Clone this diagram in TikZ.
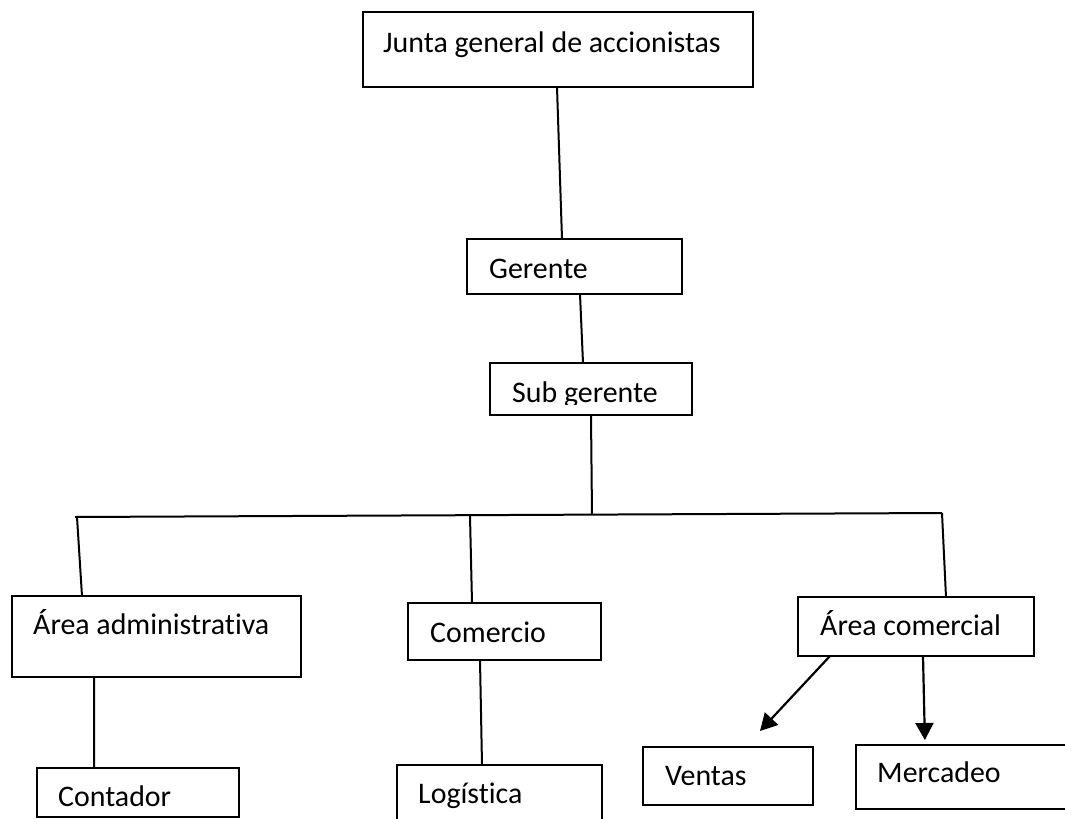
\documentclass[tikz,border=0pt]{standalone}
\usepackage{fontspec}
\setmainfont{Carlito}[Ligatures=NoCommon]
\usetikzlibrary{arrows.meta}
\begin{document}
\begin{tikzpicture}[x=1bp,y=-1bp,
  box/.style={draw, line width=2bp, rectangle, inner sep=0pt, outer sep=0pt},
  lbl/.style={anchor=base west, inner sep=0pt, font=\fontsize{30}{35}\selectfont},
  conn/.style={line width=2bp},
  arr/.style={line width=2.2bp, -{Triangle[length=17bp,width=18bp]}}]
\useasboundingbox (0,0) rectangle (1065,819);
\clip (0,0) rectangle (1065,819);
% boxes
\node[box, minimum width=390bp, minimum height=75bp] (junta) at (558,49.5) {};
\node[box, minimum width=215bp, minimum height=55bp] (gerente) at (574.5,266.5) {};
\node[box, minimum width=202bp, minimum height=52bp] (sub) at (591,389) {};
\node[box, minimum width=289bp, minimum height=81bp] (adm) at (156.5,636.5) {};
\node[box, minimum width=193bp, minimum height=57bp] (comercio) at (504.5,631.5) {};
\node[box, minimum width=236bp, minimum height=59bp] (comercial) at (916,626.5) {};
\node[box, minimum width=202bp, minimum height=49bp] (contador) at (138,792.5) {};
\node[box, minimum width=205bp, minimum height=75bp] (logistica) at (499.5,802.5) {};
\node[box, minimum width=170bp, minimum height=58bp] (ventas) at (728,776) {};
\node[box, minimum width=244bp, minimum height=64bp] (mercadeo) at (978,777) {};
% texts
\node[lbl] (tjunta) at (383,53) {Junta general de accionistas};
\node[lbl] (tgerente) at (489,278) {Gerente};
\begin{scope}
  \clip (490,363) rectangle (692,404);
  \node[lbl] (tsub) at (512,402) {Sub gerente};
\end{scope}
\node[lbl] (tadm) at (33,634) {Área administrativa};
\node[lbl] (tcomercio) at (430,642) {Comercio};
\node[lbl] (tcomercial) at (820,635) {Área comercial};
\node[lbl] (tcontador) at (58,806) {Contador};
\node[lbl] (tlogistica) at (418,803) {Logística};
\node[lbl] (tventas) at (665,785) {Ventas};
\node[lbl] (tmercadeo) at (877,782) {Mercadeo};
% bus coordinates
\coordinate (bL) at (75,517);
\coordinate (bA) at (77,517);
\coordinate (bC) at (470,516);
\coordinate (bM) at (592,515);
\coordinate (bR) at (942,513);
\coordinate (vtip) at (760,731);
% connectors
\draw[conn] ([xshift=194bp]junta.south west) -- ([xshift=95bp]gerente.north west);
\draw[conn] ([xshift=113bp]gerente.south west) -- ([xshift=93bp]sub.north west);
\draw[conn] ([xshift=101bp]sub.south west) -- (bM);
\draw[conn] (bL) -- (bR);
\draw[conn] (bA) -- ([xshift=70bp]adm.north west);
\draw[conn] (bC) -- ([xshift=64bp]comercio.north west);
\draw[conn] (bR) -- ([xshift=148bp]comercial.north west);
\draw[conn] ([xshift=82bp]adm.south west) -- ([xshift=57bp]contador.north west);
\draw[conn] ([xshift=72bp]comercio.south west) -- ([xshift=85bp]logistica.north west);
\draw[arr] ([xshift=32bp]comercial.south west) -- (vtip);
\draw[arr, shorten >=5bp] ([xshift=125bp]comercial.south west) -- ([xshift=69bp]mercadeo.north west);
\end{tikzpicture}
\end{document}
